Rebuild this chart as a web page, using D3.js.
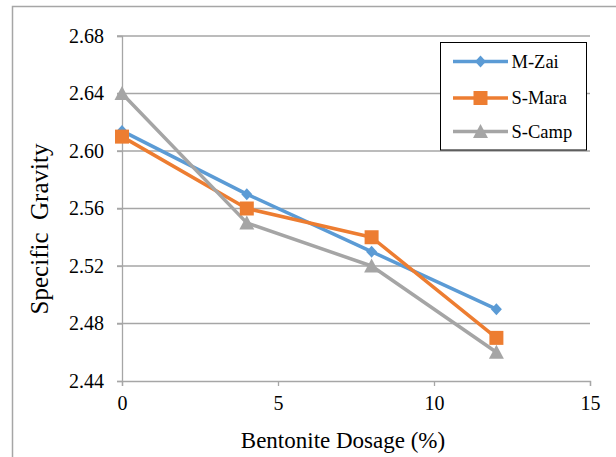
<!DOCTYPE html>
<html><head><meta charset="utf-8">
<script src="https://cdn.jsdelivr.net/npm/d3@7"></script>
<style>body{margin:0;background:#fff}svg{display:block}</style>
</head><body><svg id="c" width="616" height="457" font-family="Liberation Serif"></svg>
<script>
const dosage = [0, 4, 8, 12];
const mZai = [2.614, 2.57, 2.53, 2.49];
const sMara = [2.61, 2.56, 2.54, 2.47];
const sCamp = [2.64, 2.55, 2.52, 2.46];
const seriesNames = ["M-Zai", "S-Mara", "S-Camp"];
const xTicks = [0, 5, 10, 15];
const yTicks = [2.44, 2.48, 2.52, 2.56, 2.60, 2.64, 2.68];

const FONT = "'Liberation Serif', 'Times New Roman', Tinos, serif";
const colors = ["#5B9BD5", "#ED7D31", "#A5A5A5"];
const shapes = ["diamond", "square", "triangle"];
const seriesVals = [mZai, sMara, sCamp];

const svg = d3.select("#c");
svg.append("rect").attr("x", 12.5).attr("y", 6.5).attr("width", 700).attr("height", 600)
  .attr("fill", "#fff").attr("stroke", "#a6a6a6").attr("stroke-width", 1.5);

const x = d3.scaleLinear().domain([0, 15]).range([122, 590]);
const y = d3.scaleLinear().domain([2.44, 2.68]).range([381, 36]);

// gridlines
svg.append("g").selectAll("line").data(yTicks.slice(1)).join("line")
  .attr("x1", 117).attr("x2", 590).attr("y1", d => y(d)).attr("y2", d => y(d))
  .attr("stroke", "#a6a6a6").attr("stroke-width", 1.3);

// y axis
const yAxis = svg.append("g").attr("transform", "translate(122,0)")
  .call(d3.axisLeft(y).tickValues(yTicks).tickFormat(d3.format(".2f")).tickSize(5).tickPadding(13));
yAxis.attr("font-family", null).attr("font-size", null);
yAxis.select(".domain").attr("stroke", "#a6a6a6").attr("stroke-width", 1.3);
yAxis.selectAll(".tick line").attr("stroke", "#a6a6a6").attr("stroke-width", 1.3);
yAxis.selectAll("text").attr("font-family", "Liberation Serif").style("font-family", FONT, "important")
  .style("font-size", "20px").attr("fill", "#000");

// x axis
const xAxis = svg.append("g").attr("transform", "translate(0,381)")
  .call(d3.axisBottom(x).tickValues(xTicks).tickFormat(d3.format("d")).tickSize(5).tickPadding(10));
xAxis.attr("font-family", null).attr("font-size", null);
xAxis.select(".domain").attr("stroke", "#a6a6a6").attr("stroke-width", 1.3);
xAxis.selectAll(".tick line").attr("stroke", "#a6a6a6").attr("stroke-width", 1.3);
xAxis.selectAll("text").attr("font-family", "Liberation Serif").style("font-family", FONT, "important")
  .style("font-size", "20px").attr("fill", "#000");

function markerPath(shape) {
  if (shape === "diamond") return "M0,-6L5.5,0L0,6L-5.5,0Z";
  if (shape === "square") return "M-7,-7H7V7H-7Z";
  return "M0,-7.5L7.5,6.5H-7.5Z";
}

const line = d3.line().x((d, i) => x(dosage[i])).y(d => y(d));
seriesVals.forEach((vals, k) => {
  svg.append("path").attr("d", line(vals)).attr("fill", "none")
    .attr("stroke", colors[k]).attr("stroke-width", 3.5).attr("stroke-linejoin", "round");
});
seriesVals.forEach((vals, k) => {
  svg.append("g").selectAll("path").data(vals).join("path")
    .attr("transform", (d, i) => `translate(${x(dosage[i])},${y(d)})`)
    .attr("d", markerPath(shapes[k])).attr("fill", colors[k]);
});

// axis titles
svg.append("text").attr("x", 343).attr("y", 448).attr("text-anchor", "middle")
  .attr("font-family", "Liberation Serif").style("font-family", FONT, "important")
  .style("font-size", "23px").text("Bentonite Dosage (%)");
svg.append("text").attr("transform", "translate(48,229) rotate(-90)").attr("text-anchor", "middle")
  .attr("font-family", "Liberation Serif").style("font-family", FONT, "important")
  .style("font-size", "25px").style("white-space", "pre").text("Specific  Gravity");

// legend
const lg = svg.append("g");
lg.append("rect").attr("x", 440.5).attr("y", 42.5).attr("width", 146).attr("height", 107.5)
  .attr("fill", "#fff").attr("stroke", "#000").attr("stroke-width", 1);
const rowsY = [61.5, 98, 131.5];
seriesNames.forEach((n, k) => {
  lg.append("line").attr("x1", 453).attr("x2", 508).attr("y1", rowsY[k]).attr("y2", rowsY[k])
    .attr("stroke", colors[k]).attr("stroke-width", 3.5);
  lg.append("path").attr("transform", `translate(480.5,${rowsY[k]})`).attr("d", markerPath(shapes[k])).attr("fill", colors[k]);
  lg.append("text").attr("x", 511.5).attr("y", rowsY[k]).attr("dy", "0.35em")
    .attr("font-family", "Liberation Serif").style("font-family", FONT, "important")
    .style("font-size", "18.5px").text(n);
});
</script></body></html>
